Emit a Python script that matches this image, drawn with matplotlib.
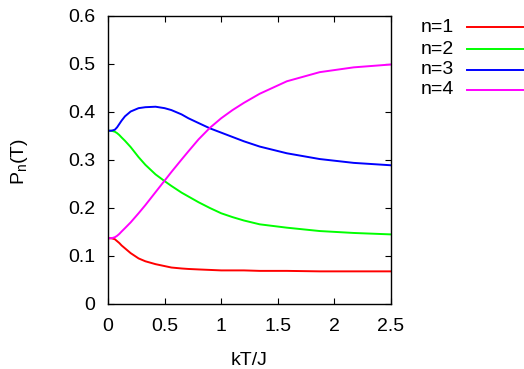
import matplotlib
matplotlib.use('Agg')
import matplotlib.pyplot as plt
from matplotlib.lines import Line2D

plt.rcParams['font.family'] = ['Liberation Sans', 'DejaVu Sans']

# temperature points (kT/J) and occupation probabilities
kT = [0, 0.03, 0.06, 0.08, 0.1, 0.12, 0.15, 0.2, 0.27, 0.33, 0.42, 0.5, 0.56, 0.65,
      0.71, 0.8, 0.9, 1.0, 1.1, 1.2, 1.34, 1.58, 1.87, 2.17, 2.5]

p1 = [0.137, 0.137, 0.135, 0.131, 0.127, 0.122, 0.116, 0.106, 0.095, 0.089, 0.083, 0.079,
      0.076, 0.074, 0.073, 0.072, 0.071, 0.070, 0.070, 0.070, 0.069, 0.069, 0.068, 0.068,
      0.068]
p2 = [0.361, 0.361, 0.359, 0.356, 0.352, 0.347, 0.340, 0.327, 0.306, 0.290, 0.270, 0.256,
      0.246, 0.232, 0.224, 0.212, 0.200, 0.189, 0.181, 0.174, 0.166, 0.159, 0.152, 0.148,
      0.145]
p3 = [0.361, 0.361, 0.363, 0.368, 0.375, 0.382, 0.391, 0.401, 0.408, 0.410, 0.411, 0.408,
      0.404, 0.395, 0.387, 0.377, 0.366, 0.357, 0.348, 0.339, 0.328, 0.314, 0.302, 0.294,
      0.289]
p4 = [0.137, 0.137, 0.139, 0.142, 0.146, 0.151, 0.158, 0.170, 0.189, 0.206, 0.233, 0.257,
      0.275, 0.301, 0.318, 0.343, 0.367, 0.387, 0.404, 0.419, 0.438, 0.464, 0.483, 0.493,
      0.499]

labels = ['n=1', 'n=2', 'n=3', 'n=4']
colors = ['#ff0000', '#00ff00', '#0000ff', '#ff00ff']
series = [p1, p2, p3, p4]

W, H = 524, 369
fig = plt.figure(figsize=(W / 100, H / 100), dpi=100)
ax = fig.add_axes([108 / W, 1 - 304 / H, (391 - 108) / W, (304 - 16) / H])

for vals, c in zip(series, colors):
    ax.plot(kT, vals, color=c, lw=1.4)

ax.set_xlim(0, 2.5)
ax.set_ylim(0, 0.6)
ax.set_xticks([0, 0.5, 1, 1.5, 2, 2.5])
ax.set_xticklabels(['0', '0.5', '1', '1.5', '2', '2.5'])
ax.set_yticks([0, 0.1, 0.2, 0.3, 0.4, 0.5, 0.6])
ax.set_yticklabels(['0', '0.1', '0.2', '0.3', '0.4', '0.5', '0.6'])
ax.tick_params(direction='in', top=True, right=True, length=4.5, width=0.8,
               labelsize=14, color='black')
ax.tick_params(axis='x', pad=10)
ax.tick_params(axis='y', pad=9)
for s in ax.spines.values():
    s.set_linewidth(1.0)
    s.set_color('black')

# axis titles
fig.text(249 / W, 1 - 365 / H, 'kT/J', fontsize=14, ha='center', va='baseline')
fig.text(20 / W, 1 - 161 / H, r'P$_\mathregular{n}$(T)', fontsize=14,
         rotation=90, ha='center', va='center')

# key on the right, gnuplot style
key_y = [27, 49, 70, 90]
for lab, c, yy in zip(labels, colors, key_y):
    fig.text(454 / W, 1 - yy / H, lab, fontsize=14, ha='right', va='center')
    fig.add_artist(Line2D([467 / W, 524 / W], [1 - yy / H, 1 - yy / H],
                          color=c, lw=1.4, transform=fig.transFigure))

fig.savefig('out.png', dpi=100)
